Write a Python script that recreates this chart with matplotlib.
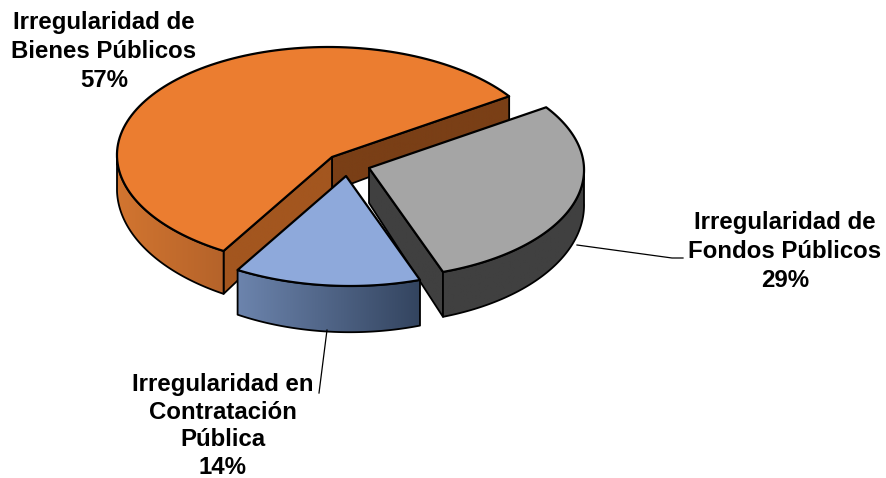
import matplotlib
matplotlib.use("Agg")
import matplotlib.pyplot as plt
import numpy as np
from matplotlib.colors import LinearSegmentedColormap
from matplotlib.patches import Polygon

# data
categories = ["Irregularidad de\nBienes Públicos", "Irregularidad en\nContratación\nPública", "Irregularidad de\nFondos Públicos"]
shares = [57, 14, 29]

START_ANGLE = 33.5
RX, RY = 215, 110
SHEAR = 0.035  # the original's perspective leans the front of the pie to the right
apexes = [(332, 157), (346, 176), (369, 168)]
top_colors = ["#EB7D30", "#8EA9DB", "#A5A5A5"]
wall_colors = [("#D27530", "#B5632A"), ("#6C84AD", "#33445F"), ("#404040", "#404040")]
cut_colors = {"orange_front": "#A3561F", "orange_back": "#7A3F16", "grey": "#404040"}
label_pos = [(104, 51.5), (223, 426), (785, 251.5)]
label_spacing = [1.31, 1.27, 1.31]


def depth(y):
    # back of the pie is further away, so the wall looks shorter
    return 35 + (y - 168) * 0.095


def arc(apex, a0, a1, n=120):
    t = np.radians(np.linspace(a0, a1, n))
    dy = -RY * np.sin(t)
    return np.column_stack([apex[0] + RX * np.cos(t) + SHEAR * dy, apex[1] + dy])


def lower(pts):
    out = np.array(pts, dtype=float)
    out[:, 1] += depth(out[:, 1])
    return out


def wall(ax, top_pts, c0, c1, zorder):
    """Extruded wall under top_pts, shaded left to right."""
    poly = np.vstack([top_pts, lower(top_pts)[::-1]])
    cmap = LinearSegmentedColormap.from_list("w", [c0, c1])
    im = ax.imshow(
        np.linspace(0, 1, 256).reshape(1, -1),
        cmap=cmap,
        aspect="auto",
        extent=(poly[:, 0].min(), poly[:, 0].max(), poly[:, 1].max(), poly[:, 1].min()),
        zorder=zorder,
    )
    edge = Polygon(poly, closed=True, fc="none", ec="black", lw=1.3, joinstyle="round", zorder=zorder + 0.1)
    ax.add_patch(edge)
    im.set_clip_path(edge)


def top_face(ax, apex, pts, color, zorder):
    poly = np.vstack([[apex], pts])
    ax.add_patch(Polygon(poly, closed=True, fc=color, ec="black", lw=1.6, joinstyle="round", zorder=zorder))


angles = START_ANGLE + np.concatenate([[0], np.cumsum(shares)]) * 360 / sum(shares)

fig = plt.figure(figsize=(8.86, 4.78), dpi=100)
ax = fig.add_axes([0, 0, 1, 1])

# orange slice
a0, a1 = angles[0], angles[1]
apex = apexes[0]
wall(ax, np.array([apex, arc(apex, a0, a0, 1)[0]]), cut_colors["orange_back"], cut_colors["orange_back"], 1)
wall(ax, np.array([apex, arc(apex, a1, a1, 1)[0]]), cut_colors["orange_front"], cut_colors["orange_front"], 1.2)
wall(ax, arc(apex, 180, a1), wall_colors[0][0], wall_colors[0][1], 1.4)
top_face(ax, apex, arc(apex, a0, a1), top_colors[0], 2)

# grey slice, exploded to the right
a0, a1 = angles[2], angles[3]
apex = apexes[2]
wall(ax, np.array([apex, arc(apex, a0, a0, 1)[0]]), cut_colors["grey"], cut_colors["grey"], 3)
wall(ax, arc(apex, a0, 360), wall_colors[2][0], wall_colors[2][1], 3.2)
top_face(ax, apex, arc(apex, a0, a1), top_colors[2], 4)

# blue slice, exploded to the front
a0, a1 = angles[1], angles[2]
apex = apexes[1]
wall(ax, arc(apex, a0, a1), wall_colors[1][0], wall_colors[1][1], 5)
top_face(ax, apex, arc(apex, a0, a1), top_colors[1], 6)

# leader lines
ax.plot([577, 672, 683], [245, 258, 258], color="black", lw=0.9, zorder=7)
ax.plot([327, 319], [330, 393], color="black", lw=0.9, zorder=7)

for name, share, (x, y), spacing in zip(categories, shares, label_pos, label_spacing):
    ax.text(
        x, y, f"{name}\n{share}%",
        ha="center", va="center", ma="center",
        fontsize=17.3, fontweight="bold", family="Liberation Sans", linespacing=spacing, zorder=8,
    )

ax.set_xlim(0, 886)
ax.set_ylim(478, 0)
ax.axis("off")
fig.savefig("out.png", dpi=100)
